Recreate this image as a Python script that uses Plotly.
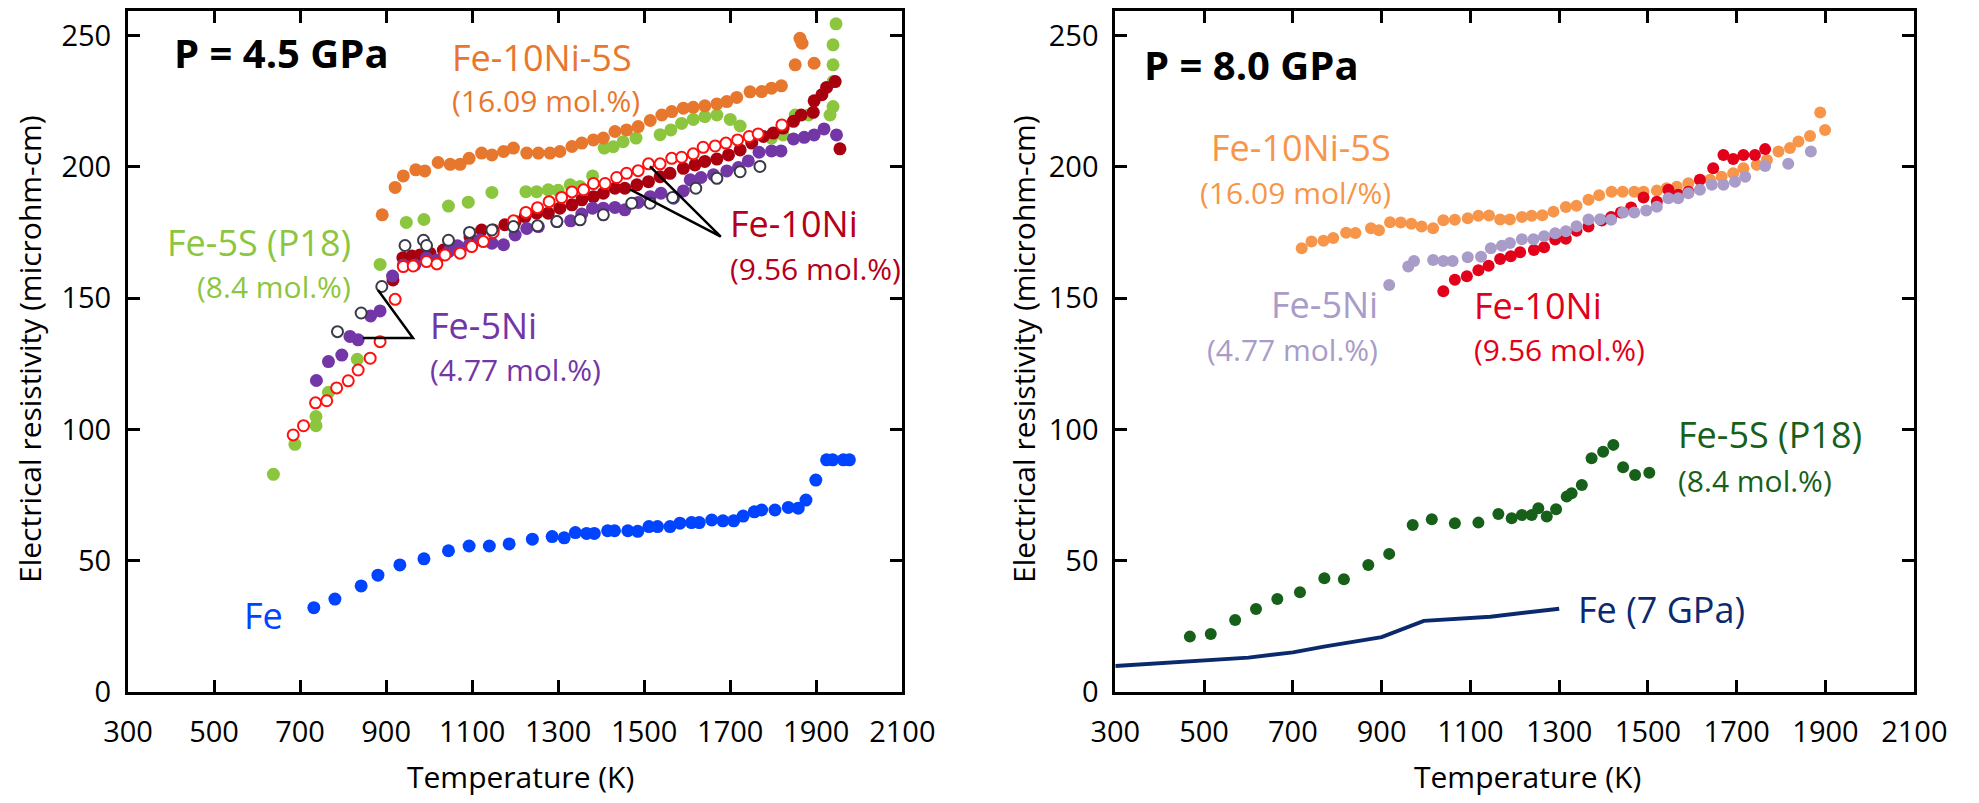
import plotly.graph_objects as go

FONT = "Open Sans, sans-serif"

# ---------------- P = 4.5 GPa (left panel) ----------------
fe45_T = [732, 781, 842, 881, 932, 988, 1045, 1093, 1140, 1186, 1240, 1286, 1314, 1340, 1366, 1384, 1415, 1431,
          1462, 1485, 1511, 1531, 1560, 1583, 1610, 1628, 1657, 1683, 1708, 1730, 1756, 1773, 1804, 1835, 1858,
          1876, 1899, 1924, 1938, 1963, 1977]
fe45_R = [32.2, 35.5, 40.5, 44.6, 48.5, 50.8, 53.9, 55.7, 55.7, 56.5, 58.3, 59.3, 58.8, 60.8, 60.5, 60.5, 61.5, 61.5,
          61.5, 61.3, 63.1, 63.1, 63.1, 64.4, 64.6, 64.6, 65.6, 65.3, 65.3, 67.1, 68.7, 69.4, 69.4, 70.4, 70.1,
          73.2, 80.8, 88.5, 88.5, 88.5, 88.5]

fens45_T = [891, 921, 940, 969, 990, 1021, 1049, 1072, 1093, 1122, 1146, 1173, 1196, 1227, 1254, 1281, 1304, 1332,
            1355, 1382, 1405, 1432, 1459, 1486, 1514, 1541, 1564, 1591, 1614, 1641, 1669, 1692, 1715, 1746, 1773,
            1796, 1819, 1851, 1895, 1862, 1867]
fens45_R = [181.8, 192.2, 196.6, 198.9, 198.5, 201.7, 201.0, 201.0, 203.3, 205.3, 204.6, 205.9, 207.2, 205.3, 205.3,
            205.3, 205.9, 207.8, 209.1, 210.3, 211.0, 213.5, 214.1, 215.4, 217.7, 219.8, 221.1, 222.4, 222.7, 223.3,
            224.0, 224.9, 226.5, 228.6, 228.7, 230.0, 230.9, 238.9, 239.5, 249.0, 247.1]

fes45_T = [638, 688, 737, 737, 766, 833, 886, 947, 988, 1045, 1091, 1146, 1225, 1250, 1277, 1300, 1328, 1351, 1380,
           1407, 1428, 1451, 1481, 1537, 1562, 1587, 1614, 1641, 1669, 1700, 1723, 1796, 1823, 1851, 1882, 1932,
           1939, 1939, 1939, 1939, 1946]
fes45_R = [83.0, 94.4, 105.0, 101.5, 114.2, 126.8, 162.9, 178.9, 180.0, 185.1, 186.6, 190.3, 190.6, 190.6, 191.3,
           191.1, 193.2, 192.6, 196.6, 207.2, 207.7, 209.6, 211.0, 212.3, 214.1, 216.6, 218.1, 219.2, 219.8, 218.1,
           215.6, 211.0, 212.2, 219.8, 219.8, 219.8, 223.0, 232.5, 238.9, 246.5, 254.5]

fen45_T = [916, 939, 960, 979, 1002, 1033, 1064, 1095, 1122, 1149, 1176, 1200, 1223, 1250, 1277, 1304, 1332, 1355,
           1382, 1405, 1432, 1455, 1483, 1510, 1537, 1560, 1591, 1618, 1641, 1669, 1696, 1723, 1750, 1777, 1800,
           1823, 1847, 1865, 1893, 1895, 1913, 1924, 1944, 1955]
fen45_R = [157.0, 165.4, 166.1, 166.5, 167.2, 168.4, 169.7, 173.4, 176.0, 176.0, 178.0, 179.2, 181.1, 182.4, 182.4,
           184.3, 185.6, 187.5, 188.7, 190.0, 191.9, 191.9, 193.2, 194.4, 196.3, 197.6, 199.5, 200.8, 202.1, 203.0,
           204.6, 206.5, 209.1, 211.6, 212.9, 214.8, 217.4, 219.8, 220.8, 225.2, 227.5, 230.3, 232.5, 206.9]

fen45o_T = [684, 708, 736, 762, 785, 812, 835, 863, 886, 921, 940, 963, 994, 1018, 1037, 1072, 1099, 1126, 1149,
            1196, 1225, 1252, 1279, 1308, 1332, 1359, 1382, 1409, 1436, 1459, 1486, 1510, 1537, 1564, 1587, 1614,
            1637, 1665, 1690, 1717, 1744, 1765, 1820]
fen45o_R = [98.0, 101.5, 110.2, 111.0, 115.9, 118.6, 122.7, 127.2, 133.5, 149.6, 162.1, 162.3, 164.0, 163.1, 166.5,
            167.2, 169.7, 171.6, 175.1, 179.5, 182.7, 184.5, 186.8, 188.4, 190.5, 191.3, 193.7, 193.7, 196.0, 197.6,
            198.6, 201.2, 201.2, 203.3, 203.7, 205.0, 207.5, 208.0, 209.1, 210.3, 211.6, 212.6, 216.0]

fe5n45_T = [738, 766, 797, 816, 835, 864, 886, 915, 940, 967, 994, 1018, 1045, 1066, 1093, 1118, 1146, 1173, 1200,
            1227, 1254, 1297, 1329, 1355, 1380, 1405, 1432, 1455, 1486, 1514, 1539, 1568, 1591, 1607, 1632, 1661,
            1692, 1719, 1742, 1767, 1796, 1818, 1847, 1872, 1895, 1918, 1947]
fe5n45_R = [118.7, 125.9, 128.4, 135.5, 134.2, 143.3, 145.2, 158.5, 162.7, 162.7, 165.3, 164.6, 167.8, 170.0, 170.3,
            172.2, 171.0, 170.4, 174.1, 176.6, 177.3, 179.2, 179.5, 182.1, 184.3, 184.3, 184.6, 183.7, 186.5, 188.7,
            190.0, 188.1, 190.9, 195.1, 196.0, 197.0, 198.5, 199.8, 202.3, 205.6, 206.1, 206.1, 210.7, 211.3, 212.2,
            214.5, 212.2]

fe5n45o_T = [787, 842, 890, 944, 987, 994, 1045, 1094, 1146, 1196, 1252, 1297, 1351, 1405, 1471, 1514, 1566, 1620,
             1669, 1723, 1769]
fe5n45o_R = [137.3, 144.4, 154.5, 170.1, 172.1, 170.1, 172.1, 175.1, 176.0, 177.3, 177.6, 179.2, 179.9, 181.8, 186.2,
             186.2, 188.4, 191.9, 195.7, 198.2, 200.2]

# ---------------- P = 8.0 GPa (right panel) ----------------
fe7_T = [300, 500, 600, 700, 770, 900, 995, 1145, 1300]
fe7_R = [10.0, 11.9, 13.2, 15.2, 17.4, 21.0, 27.2, 28.8, 31.8]

fes80_T = [468, 515, 570, 617, 665, 716, 771, 815, 870, 917, 970, 1013, 1065, 1118, 1163, 1193, 1216, 1238, 1253,
           1272, 1293, 1317, 1328, 1351, 1373, 1399, 1422, 1444, 1471, 1503]
fes80_R = [21.2, 22.2, 27.5, 31.7, 35.5, 38.1, 43.4, 43.0, 48.5, 52.7, 63.7, 65.9, 64.4, 64.6, 67.9, 66.3, 67.5, 67.5,
           70.1, 66.9, 69.7, 74.5, 75.8, 78.9, 89.1, 91.6, 94.2, 85.7, 82.7, 83.6]

fens80_T = [720, 742, 769, 791, 820, 841, 876, 894, 919, 943, 967, 990, 1016, 1039, 1065, 1094, 1118, 1142, 1167,
            1189, 1216, 1238, 1262, 1287, 1315, 1339, 1366, 1390, 1418, 1443, 1469, 1490, 1520, 1542, 1565, 1591,
            1617, 1640, 1666, 1692, 1715, 1745, 1768, 1794, 1820, 1839, 1865, 1899, 1888]
fens80_R = [169.1, 171.6, 171.9, 173.0, 175.0, 174.9, 176.7, 175.9, 179.0, 178.9, 178.4, 177.3, 176.7, 179.7, 179.9,
            180.5, 181.4, 181.5, 180.0, 180.0, 181.0, 181.4, 181.6, 183.0, 184.8, 185.2, 187.5, 189.2, 190.6, 190.6,
            190.6, 190.6, 191.0, 191.9, 192.5, 193.8, 195.1, 195.1, 196.3, 197.6, 199.5, 200.8, 202.7, 205.9, 207.2,
            209.7, 211.8, 214.1, 220.7]

fe5n80_T = [917, 960, 973, 1016, 1039, 1060, 1094, 1124, 1146, 1171, 1189, 1216, 1242, 1266, 1291, 1315, 1339, 1366,
            1392, 1417, 1444, 1469, 1496, 1520, 1546, 1568, 1591, 1617, 1644, 1670, 1696, 1719, 1764, 1816, 1867]
fe5n80_R = [155.1, 162.1, 164.2, 164.6, 164.2, 164.2, 165.6, 165.8, 169.1, 170.0, 171.1, 172.5, 172.5, 173.6, 174.8,
            175.5, 177.4, 180.0, 180.1, 179.9, 182.7, 182.7, 183.4, 184.9, 188.1, 188.1, 190.0, 191.3, 193.2, 193.2,
            194.4, 196.3, 200.4, 201.2, 205.9]

fen80_T = [1039, 1065, 1092, 1118, 1141, 1167, 1191, 1212, 1243, 1266, 1291, 1315, 1339, 1366, 1396, 1417, 1439,
           1462, 1490, 1520, 1546, 1568, 1591, 1617, 1647, 1670, 1692, 1715, 1741, 1764]
fen80_R = [152.7, 157.1, 158.4, 160.7, 162.4, 165.0, 166.0, 167.5, 168.4, 169.4, 172.4, 172.7, 175.7, 177.3, 179.6,
           181.0, 182.7, 184.6, 188.4, 186.8, 191.3, 189.4, 190.6, 195.1, 199.5, 204.6, 203.0, 204.6, 204.6, 206.8]

x_ticks = [300, 500, 700, 900, 1100, 1300, 1500, 1700, 1900, 2100]
y_ticks = [0, 50, 100, 150, 200, 250]

# colours
C_ORANGE = "#E8772E"
C_LGREEN = "#8CC63F"
C_PURPLE = "#7336A6"
C_DRED = "#A8000F"
C_RED = "#FF1010"
C_DOPEN = "#3A3A4A"
C_BLUE = "#0044FF"
C_ORANGE2 = "#F7964A"
C_LAV = "#A99CC8"
C_RED2 = "#E2001A"
C_DGREEN = "#17601A"
C_NAVY = "#0B2A6E"

fig = go.Figure()


def dots(x, y, color, xa, ya, size=13):
    fig.add_trace(go.Scatter(x=x, y=y, mode="markers", xaxis=xa, yaxis=ya, showlegend=False,
                             marker=dict(size=size, color=color, line=dict(width=0))))


def rings(x, y, color, xa, ya, size=11):
    fig.add_trace(go.Scatter(x=x, y=y, mode="markers", xaxis=xa, yaxis=ya, showlegend=False,
                             marker=dict(size=size, color="white", line=dict(width=2, color=color))))


# left panel
dots(fes45_T, fes45_R, C_LGREEN, "x", "y")
dots(fens45_T, fens45_R, C_ORANGE, "x", "y")
dots(fe45_T, fe45_R, C_BLUE, "x", "y")
dots(fen45_T, fen45_R, C_DRED, "x", "y")
dots(fe5n45_T, fe5n45_R, C_PURPLE, "x", "y")
rings(fen45o_T, fen45o_R, C_RED, "x", "y")
rings(fe5n45o_T, fe5n45o_R, C_DOPEN, "x", "y")

# right panel
fig.add_trace(go.Scatter(x=fe7_T, y=fe7_R, mode="lines", xaxis="x2", yaxis="y2", showlegend=False,
                         line=dict(color=C_NAVY, width=4)))
dots(fes80_T, fes80_R, C_DGREEN, "x2", "y2", size=12)
dots(fens80_T, fens80_R, C_ORANGE2, "x2", "y2", size=12)
dots(fen80_T, fen80_R, C_RED2, "x2", "y2", size=12)
dots(fe5n80_T, fe5n80_R, C_LAV, "x2", "y2", size=12)

axis_common = dict(showline=True, linewidth=3, linecolor="black", mirror="ticks", ticks="inside",
                   ticklen=12, tickwidth=2.5, tickcolor="black", showgrid=False, zeroline=False,
                   automargin=False, tickfont=dict(family=FONT, size=29, color="black"))

Y_DOM = [1 - 692.3 / 803, 1 - 10.7 / 803]
fig.update_layout(
    width=1979, height=803, margin=dict(l=0, r=0, t=0, b=0, autoexpand=False),
    paper_bgcolor="white", plot_bgcolor="white",
    xaxis=dict(axis_common, range=[300, 2100], tickvals=x_ticks, domain=[128 / 1979, 902.3 / 1979],
               anchor="y", ticklabelstandoff=12),
    yaxis=dict(axis_common, range=[0, 259.5], tickvals=y_ticks, domain=Y_DOM, anchor="x",
               ticklabelstandoff=8),
    xaxis2=dict(axis_common, range=[300, 2100], tickvals=x_ticks, domain=[1115.3 / 1979, 1914.3 / 1979],
                anchor="y2", ticklabelstandoff=12),
    yaxis2=dict(axis_common, range=[0, 259.5], tickvals=y_ticks, domain=Y_DOM, anchor="x2",
                ticklabelstandoff=8),
)

anns = []


def label(text, x, y, color, size, xa, ya, xanchor="left", bold=False):
    anns.append(dict(text=("<b>%s</b>" % text) if bold else text, x=x, y=y, xref=xa, yref=ya,
                     xanchor=xanchor, yanchor="middle", showarrow=False,
                     font=dict(family=FONT, size=size, color=color)))


# left labels
label("P = 4.5 GPa", 402, 243.6, "black", 40, "x", "y", bold=True)
label("Fe-10Ni-5S", 1048, 241.7, C_ORANGE, 36, "x", "y")
label("(16.09 mol.%)", 1048, 225.2, C_ORANGE, 30, "x", "y")
label("Fe-5S (P18)", 823, 171.3, C_LGREEN, 36, "x", "y", xanchor="right")
label("(8.4 mol.%)", 823, 154.5, C_LGREEN, 30, "x", "y", xanchor="right")
label("Fe-5Ni", 997, 139.7, C_PURPLE, 36, "x", "y")
label("(4.77 mol.%)", 997, 122.9, C_PURPLE, 30, "x", "y")
label("Fe-10Ni", 1695, 178.5, "#B5001B", 36, "x", "y")
label("(9.56 mol.%)", 1695, 161.4, "#B5001B", 30, "x", "y")
label("Fe", 564, 29.4, C_BLUE, 36, "x", "y")

# right labels
label("P = 8.0 GPa", 360, 239.1, "black", 40, "x2", "y2", bold=True)
label("Fe-10Ni-5S", 926, 207.6, C_ORANGE2, 36, "x2", "y2", xanchor="right")
label("(16.09 mol/%)", 926, 190.3, C_ORANGE2, 30, "x2", "y2", xanchor="right")
label("Fe-5Ni", 896, 147.5, C_LAV, 36, "x2", "y2", xanchor="right")
label("(4.77 mol.%)", 896, 130.4, C_LAV, 30, "x2", "y2", xanchor="right")
label("Fe-10Ni", 1103, 147.2, C_RED2, 36, "x2", "y2")
label("(9.56 mol.%)", 1103, 130.7, C_RED2, 30, "x2", "y2")
label("Fe-5S (P18)", 1563, 98.0, C_DGREEN, 36, "x2", "y2")
label("(8.4 mol.%)", 1563, 80.8, C_DGREEN, 30, "x2", "y2")
label("Fe (7 GPa)", 1338, 31.7, C_NAVY, 36, "x2", "y2")

# axis titles
for xp in [30 / 1979, 1024 / 1979]:
    anns.append(dict(text="Electrical resistivity (microhm-cm)", x=xp, y=1 - 349 / 803, xref="paper",
                     yref="paper", xanchor="center", yanchor="middle", textangle=-90, showarrow=False,
                     font=dict(family=FONT, size=30, color="black")))
for xp in [520.8 / 1979, 1527 / 1979]:
    anns.append(dict(text="Temperature (K)", x=xp, y=1 - 776 / 803, xref="paper", yref="paper",
                     xanchor="center", yanchor="middle", showarrow=False,
                     font=dict(family=FONT, size=30, color="black")))

fig.update_layout(annotations=anns)

# leader lines for the labels (left panel)
fig.add_shape(type="path", path="M 881 153.2 L 962.5 134.9 L 846 134.9", xref="x", yref="y",
              line=dict(color="black", width=2.5))
fig.add_shape(type="path", path="M 1467 191.5 L 1678 173.5 L 1513.5 200.2", xref="x", yref="y",
              line=dict(color="black", width=2.5))

fig.write_html("out.html")
